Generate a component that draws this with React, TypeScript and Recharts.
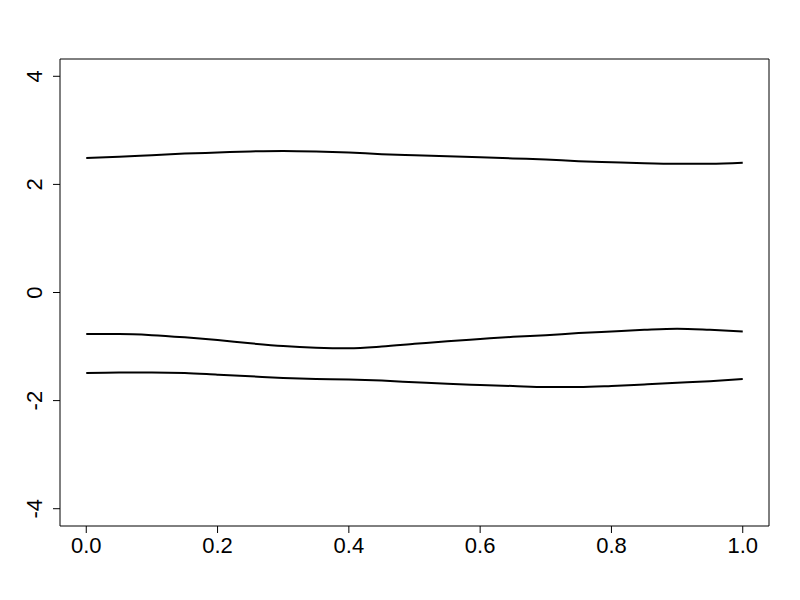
import React from "react";
import { LineChart, Line, XAxis, YAxis, ReferenceArea } from "recharts";

const xValues = [0, 0.05, 0.1, 0.15, 0.2, 0.25, 0.3, 0.35, 0.4, 0.45, 0.5, 0.55, 0.6, 0.65, 0.7, 0.75, 0.8, 0.85, 0.9, 0.95, 1.0];
const upperSeries = [2.49, 2.51, 2.54, 2.57, 2.59, 2.61, 2.62, 2.61, 2.59, 2.56, 2.54, 2.52, 2.5, 2.48, 2.46, 2.43, 2.41, 2.39, 2.38, 2.38, 2.4];
const middleSeries = [-0.77, -0.77, -0.79, -0.83, -0.88, -0.94, -0.99, -1.02, -1.03, -1.0, -0.95, -0.9, -0.86, -0.82, -0.79, -0.75, -0.72, -0.69, -0.67, -0.69, -0.72];
const lowerSeries = [-1.49, -1.48, -1.48, -1.49, -1.52, -1.55, -1.58, -1.6, -1.61, -1.63, -1.66, -1.69, -1.71, -1.73, -1.75, -1.75, -1.73, -1.7, -1.67, -1.64, -1.6];

const xTicks = [0, 0.2, 0.4, 0.6, 0.8, 1.0];
const xTickLabels = ["0.0", "0.2", "0.4", "0.6", "0.8", "1.0"];
const yTicks = [-4, -2, 0, 2, 4];
const yTickLabels = ["-4", "-2", "0", "2", "4"];

const xDomain: [number, number] = [-0.04, 1.04];
const yDomain: [number, number] = [-4.32, 4.32];

const rows = xValues.map((x, i) => ({
  x,
  upper: upperSeries[i],
  middle: middleSeries[i],
  lower: lowerSeries[i],
}));

const FONT = "'Liberation Sans', Arial, Helvetica, sans-serif";
const labelStyle: React.CSSProperties = { fontFamily: FONT, fontSize: "22px" };

const XTick = (props: any) => {
  const { x, y, payload } = props;
  const idx = xTicks.indexOf(payload.value);
  const label = idx >= 0 ? xTickLabels[idx] : String(payload.value);
  return (
    <text x={x} y={y + 20} textAnchor="middle" style={labelStyle} fill="#000">
      {label}
    </text>
  );
};

const YTick = (props: any) => {
  const { x, y, payload } = props;
  const idx = yTicks.indexOf(payload.value);
  const label = idx >= 0 ? yTickLabels[idx] : String(payload.value);
  const bx = x - 11;
  return (
    <text
      x={bx}
      y={y}
      transform={`rotate(-90, ${bx}, ${y})`}
      textAnchor="middle"
      style={labelStyle}
      fill="#000"
    >
      {label}
    </text>
  );
};

export default function App() {
  return (
    <div style={{ position: "absolute", left: 0, top: 0, width: 800, height: 600, background: "#fff" }}>
      <LineChart
        width={800}
        height={600}
        data={rows}
        margin={{ top: 59, right: 31, bottom: 0, left: 0 }}
      >
        <XAxis
          dataKey="x"
          type="number"
          domain={xDomain}
          ticks={xTicks}
          allowDataOverflow
          axisLine={false}
          tickLine={{ stroke: "#000", strokeWidth: 1 }}
          tickSize={7}
          tickMargin={0}
          height={74}
          tick={<XTick />}
          interval={0}
        />
        <YAxis
          type="number"
          domain={yDomain}
          ticks={yTicks}
          allowDataOverflow
          axisLine={false}
          tickLine={{ stroke: "#000", strokeWidth: 1 }}
          tickSize={7}
          tickMargin={0}
          width={60}
          tick={<YTick />}
          interval={0}
        />
        <ReferenceArea
          x1={xDomain[0]}
          x2={xDomain[1]}
          y1={yDomain[0]}
          y2={yDomain[1]}
          fill="none"
          fillOpacity={0}
          stroke="#000"
          strokeWidth={1}
          ifOverflow="visible"
        />
        <Line dataKey="upper" type="monotone" stroke="#000" strokeWidth={2} dot={false} isAnimationActive={false} />
        <Line dataKey="middle" type="monotone" stroke="#000" strokeWidth={2} dot={false} isAnimationActive={false} />
        <Line dataKey="lower" type="monotone" stroke="#000" strokeWidth={2} dot={false} isAnimationActive={false} />
      </LineChart>
    </div>
  );
}
